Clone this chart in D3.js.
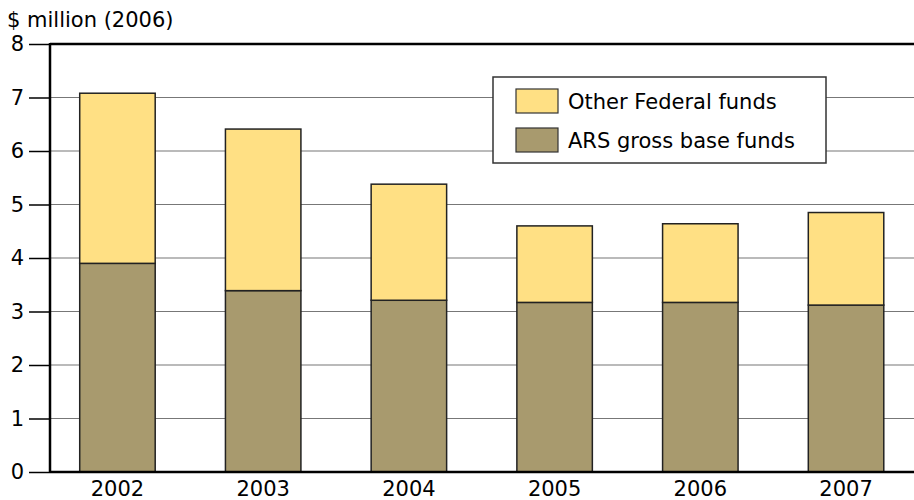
<!DOCTYPE html>
<html>
<head>
<meta charset="utf-8">
<script src="https://cdn.jsdelivr.net/npm/d3@7"></script>
<style>
  body { margin: 0; background: #fff; }
  text { font-family: "DejaVu Sans", "Liberation Sans", Arial, sans-serif; }
</style>
</head>
<body>
<script>
// Valores ($ milhões de 2006)
var years = ["2002", "2003", "2004", "2005", "2006", "2007"];
var arsBase = [3.90, 3.39, 3.21, 3.17, 3.17, 3.12];
var otherFederal = [3.18, 3.02, 2.17, 1.43, 1.47, 1.73];
var yTicks = [0, 1, 2, 3, 4, 5, 6, 7, 8];
var seriesNames = ["Other Federal funds", "ARS gross base funds"];
var seriesColors = ["#ffe084", "#a89a6e"];

var width = 914, height = 500;
var plotLeft = 50, plotTop = 44, plotBottom = 472;

var svg = d3.select("body").append("svg")
    .attr("width", width)
    .attr("height", height);

var x = d3.scaleBand()
    .domain(years)
    .range([44.6, 918.9])
    .paddingInner(0.482)
    .paddingOuter(0.241);

var y = d3.scaleLinear().domain([0, 8]).range([plotBottom, plotTop]);

// Linhas de grade
svg.selectAll(".grid")
    .data(yTicks.filter(function(d) { return d > 0 && d < 8; }))
    .enter().append("line")
    .attr("x1", plotLeft).attr("x2", width)
    .attr("y1", function(d) { return y(d); })
    .attr("y2", function(d) { return y(d); })
    .attr("stroke", "#777")
    .attr("stroke-width", 1.2);

// Eixo y com ticks à esquerda
var yAxis = svg.append("g")
    .attr("transform", "translate(" + plotLeft + ",0)")
    .call(d3.axisLeft(y).tickValues(yTicks).tickSize(21).tickPadding(5));
yAxis.select(".domain").remove();
yAxis.selectAll(".tick line").attr("stroke", "#000").attr("stroke-width", 1.5);
yAxis.selectAll(".tick text")
    .attr("font-size", "21px")
    .attr("font-family", "'DejaVu Sans', sans-serif")
    .attr("fill", "#000");

// Barras empilhadas
var data = years.map(function(yr, i) {
  return { year: yr, base: arsBase[i], other: otherFederal[i] };
});

var g = svg.append("g");
g.selectAll(".base")
    .data(data)
    .enter().append("rect")
    .attr("x", function(d) { return x(d.year); })
    .attr("width", x.bandwidth())
    .attr("y", function(d) { return y(d.base); })
    .attr("height", function(d) { return y(0) - y(d.base); })
    .attr("fill", seriesColors[1])
    .attr("stroke", "#222")
    .attr("stroke-width", 1.5);

g.selectAll(".other")
    .data(data)
    .enter().append("rect")
    .attr("x", function(d) { return x(d.year); })
    .attr("width", x.bandwidth())
    .attr("y", function(d) { return y(d.base + d.other); })
    .attr("height", function(d) { return y(d.base) - y(d.base + d.other); })
    .attr("fill", seriesColors[0])
    .attr("stroke", "#222")
    .attr("stroke-width", 1.5);

// Linhas do quadro: topo, esquerda, base
svg.append("line")
    .attr("x1", plotLeft).attr("x2", width)
    .attr("y1", y(8)).attr("y2", y(8))
    .attr("stroke", "#000").attr("stroke-width", 2.5);
svg.append("line")
    .attr("x1", plotLeft).attr("x2", plotLeft)
    .attr("y1", y(8) - 1).attr("y2", y(0) + 1)
    .attr("stroke", "#000").attr("stroke-width", 2.5);
svg.append("line")
    .attr("x1", plotLeft).attr("x2", width)
    .attr("y1", y(0)).attr("y2", y(0))
    .attr("stroke", "#000").attr("stroke-width", 2.5);

// Eixo x (rótulos dos anos)
svg.selectAll(".xlabel")
    .data(years)
    .enter().append("text")
    .attr("x", function(d) { return x(d) + x.bandwidth() / 2; })
    .attr("y", 496)
    .attr("text-anchor", "middle")
    .attr("font-size", "21px")
    .text(function(d) { return d; });

// Título do eixo y
svg.append("text")
    .attr("x", 7)
    .attr("y", 27)
    .attr("font-size", "21px")
    .text("$ million (2006)");

// Legenda
var legend = svg.append("g").attr("transform", "translate(493,77)");
legend.append("rect")
    .attr("width", 333).attr("height", 86)
    .attr("fill", "#fff")
    .attr("stroke", "#333")
    .attr("stroke-width", 1.5);
seriesNames.forEach(function(name, i) {
  legend.append("rect")
      .attr("x", 23).attr("y", 12 + i * 39)
      .attr("width", 42).attr("height", 24)
      .attr("fill", seriesColors[i])
      .attr("stroke", "#333")
      .attr("stroke-width", 1.2);
  legend.append("text")
      .attr("x", 75).attr("y", 32 + i * 39)
      .attr("font-size", "21px")
      .text(name);
});
</script>
</body>
</html>
